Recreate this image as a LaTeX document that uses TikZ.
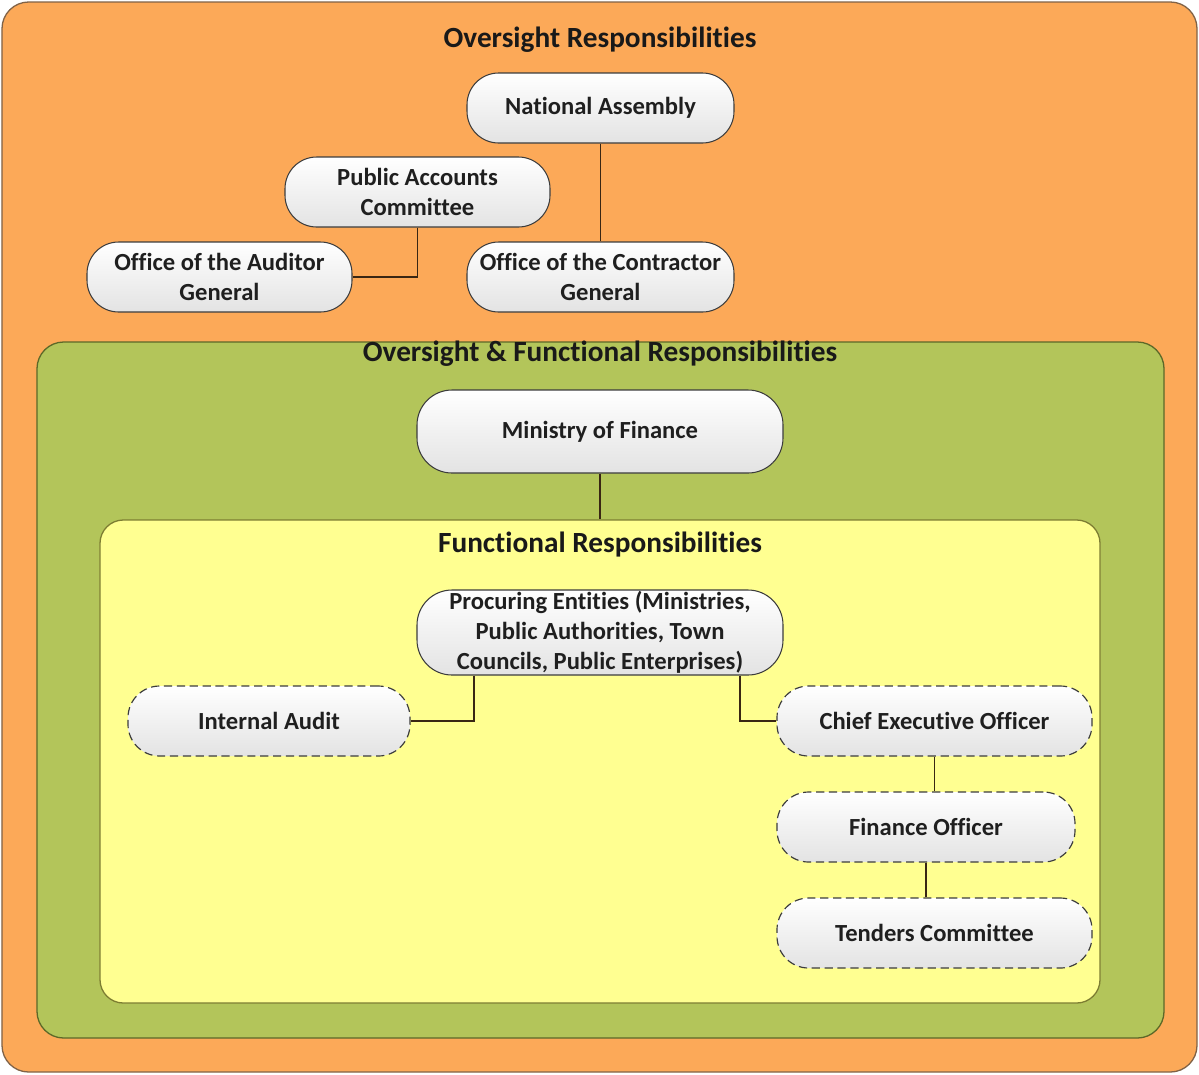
\documentclass[tikz,border=0pt]{standalone}
\usepackage{fontspec}
\setmainfont{Carlito}[Ligatures=NoCommon]
\definecolor{oversight}{RGB}{252,169,88}
\definecolor{oversightline}{RGB}{128,98,70}
\definecolor{mixed}{RGB}{179,197,90}
\definecolor{mixedline}{RGB}{92,104,40}
\definecolor{functional}{RGB}{255,255,145}
\definecolor{functionalline}{RGB}{125,125,50}
\definecolor{boxline}{RGB}{60,60,60}

\begin{document}
\begin{tikzpicture}[x=0.3mm,y=-0.3mm,
  area/.style={draw,line width=1.1pt,inner sep=0,rounded corners=8mm},
  title/.style={font=\bfseries\fontsize{25}{29}\selectfont,text=black!90},
  unit/.style={draw=boxline,line width=0.9pt,rounded corners=9.5mm,top color=white,
    bottom color=black!11,inner sep=0,minimum height=21mm,align=center,
    font=\bfseries\fontsize{21}{25.5}\selectfont,text=black!88},
  staff/.style={unit,dashed,dash pattern=on 7pt off 4pt,line width=1pt},
  link/.style={draw=black!70!brown,line width=1.3pt}]
\useasboundingbox (0,0) rectangle (1199,1074);

% nested areas
\node[area,draw=oversightline,fill=oversight,minimum width=358.5mm,minimum height=321mm] (outer) at (599.5,537) {};
\node[area,draw=mixedline,fill=mixed,minimum width=338.1mm,minimum height=208.8mm] (mid) at (600.5,690) {};
\node[area,draw=functionalline,fill=functional,rounded corners=7mm,minimum width=300mm,minimum height=144.9mm] (inner) at (600,761.5) {};

\node[title] (t1) at (600,40) {Oversight Responsibilities};
\node[title] (t2) at (600,354) {Oversight \& Functional Responsibilities};
\node[title] (t3) at (600,545) {Functional Responsibilities};

% oversight
\node[unit,minimum width=80.1mm] (na) at (600.5,108) {National Assembly};
\node[unit,minimum width=79.5mm] (pac) at (417.5,192) {Public Accounts\\Committee};
\node[unit,minimum width=79.5mm] (oag) at (219.5,277) {Office of the Auditor\\General};
\node[unit,minimum width=80.1mm] (ocg) at (600.5,277) {Office of the Contractor\\General};
\draw[link] (na) -- (ocg);
\draw[link] (pac.south) |- (oag.east);

% ministry
\node[unit,rounded corners=10.5mm,minimum width=109.8mm,minimum height=24.9mm] (mof) at (600,431.5) {Ministry of Finance};
\draw[link] (mof.south) -- (mof.south |- inner.north);

% functional
\node[unit,rounded corners=10.5mm,minimum width=109.8mm,minimum height=25.5mm] (pe) at (600,632.5) {Procuring Entities (Ministries,\\Public Authorities, Town\\Councils, Public Enterprises)};
\node[staff,minimum width=84.6mm] (ia) at (269,721) {Internal Audit};
\node[staff,minimum width=94.5mm] (ceo) at (934.5,721) {Chief Executive Officer};
\node[staff,minimum width=89.4mm] (fo) at (926,827) {Finance Officer};
\node[staff,minimum width=94.5mm] (tc) at (934.5,933) {Tenders Committee};
\draw[link] ([xshift=-37.8mm]pe.south) |- (ia.east);
\draw[link] ([xshift=42mm]pe.south) |- (ceo.west);
\draw[link] (ceo.south) -- (ceo.south |- fo.north);
\draw[link] (fo.south) -- (fo.south |- tc.north);
\end{tikzpicture}
\end{document}
